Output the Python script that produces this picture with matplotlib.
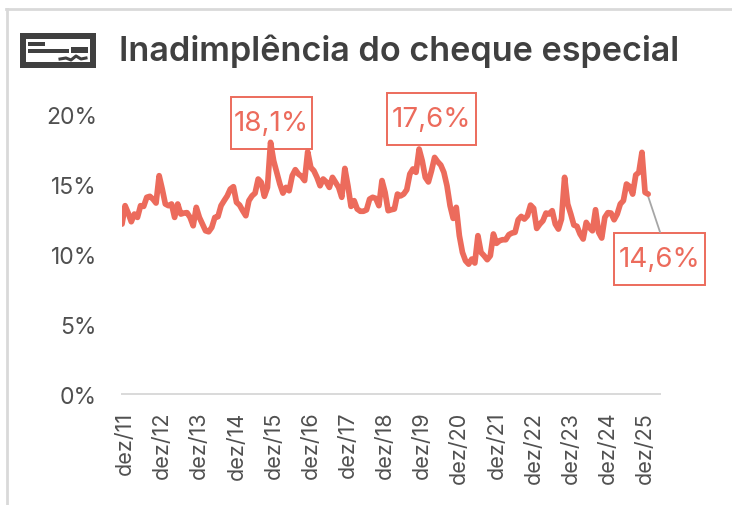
import matplotlib
matplotlib.use("Agg")
import matplotlib.pyplot as plt
from matplotlib.lines import Line2D
from matplotlib.patches import Rectangle
from matplotlib.transforms import ScaledTranslation

title = "Inadimplência do cheque especial"
tick_labels = ["dez/%d" % y for y in range(11, 26)]
y_ticks = [0, 5, 10, 15, 20]
y_labels = ["0%", "5%", "10%", "15%", "20%"]

v2012 = [12.18, 13.5, 12.97, 12.35, 12.9, 12.66, 13.5, 13.45, 14.1, 14.17, 13.97, 13.69]
v2013 = [15.65, 14.69, 13.62, 13.5, 13.62, 12.66, 13.62, 12.9, 12.97, 13.0, 12.66, 12.06]
v2014 = [13.38, 12.66, 12.18, 11.7, 11.63, 11.94, 12.66, 12.71, 13.5, 13.86, 14.2, 14.69]
v2015 = [14.86, 13.74, 13.54, 13.14, 12.78, 13.86, 14.2, 14.4, 15.41, 15.17, 14.17, 14.81]
v2016 = [18.04, 16.72, 15.89, 15.05, 14.4, 14.81, 14.57, 15.65, 16.08, 15.77, 15.6, 15.3]
v2017 = [17.37, 16.24, 16.0, 15.53, 14.93, 15.41, 15.2, 14.81, 15.53, 15.17, 14.81, 14.1]
v2018 = [16.17, 14.93, 13.45, 13.86, 13.26, 13.1, 13.1, 13.2, 13.97, 14.1, 14.02, 13.5]
v2019 = [15.3, 14.45, 13.14, 13.21, 13.26, 14.33, 14.2, 14.33, 14.64, 15.77, 16.13, 15.89]
v2020 = [17.56, 16.72, 15.53, 15.2, 16.0, 16.96, 16.65, 16.41, 15.89, 14.93, 13.5, 12.59]
v2021 = [13.38, 11.35, 10.15, 9.55, 9.31, 9.67, 9.39, 11.35, 10.15, 9.91, 9.63, 9.91]
v2022 = [11.47, 10.8, 10.99, 11.06, 11.06, 11.42, 11.54, 11.59, 12.49, 12.73, 12.54, 12.78]
v2023 = [13.54, 13.31, 11.87, 12.18, 12.42, 12.97, 12.9, 13.14, 12.18, 11.82, 12.54, 15.53]
v2024 = [13.62, 12.9, 12.11, 12.02, 11.47, 11.11, 12.3, 11.94, 11.7, 13.21, 11.59, 11.18]
v2025 = [12.66, 13.0, 12.97, 12.49, 12.9, 13.62, 13.86, 15.05, 14.88, 14.33, 15.7, 15.89]
v2026 = [17.32, 14.45, 14.33]
values = (v2012 + v2013 + v2014 + v2015 + v2016 + v2017 + v2018 + v2019 +
          v2020 + v2021 + v2022 + v2023 + v2024 + v2025 + v2026)

point_labels = ["18,1%", "17,6%", "14,6%"]

CORAL = "#EC6B5C"
DARK = "#404040"
GREY = "#505050"
W, H = 732, 506
FONT = "Inter"

fig = plt.figure(figsize=(W / 100, H / 100), dpi=100)
ax = fig.add_axes([122 / W, 1 - 395 / H, (660 - 122) / W, (395 - 116) / H])
ax.set_zorder(5)
ax.plot(range(len(values)), values, color=CORAL, lw=4.1, solid_joinstyle="round",
        solid_capstyle="round", clip_on=True)
ax.set_ylim(0, 20)
ax.set_xlim(0, (660 - 122) / 3.095)
ax.patch.set_alpha(0)
for s in ["top", "right", "left"]:
    ax.spines[s].set_visible(False)
ax.spines["bottom"].set_color("#D9D9D9")
ax.spines["bottom"].set_linewidth(1.4)
ax.set_yticks(y_ticks, y_labels, fontsize=16.5, color=GREY, family=FONT)
ax.set_xticks(range(0, 169, 12), tick_labels, rotation=90, fontsize=15.5, color=GREY, family=FONT)
ax.tick_params(length=0)
ax.tick_params(axis="y", pad=18)
ax.tick_params(axis="x", pad=12)
shift = ScaledTranslation(3 / 100, 0, fig.dpi_scale_trans)
for t in ax.get_xticklabels():
    t.set_transform(t.get_transform() + shift)


def px_text(x, y, s, **kw):
    return fig.text(x / W, 1 - y / H, s, **kw)


def rect(x0, y0, x1, y1, fc, ec="none", lw=0):
    fig.add_artist(Rectangle((x0 / W, 1 - y1 / H), (x1 - x0) / W, (y1 - y0) / H,
                             transform=fig.transFigure, fc=fc, ec=ec, lw=lw))


# leader line
fig.add_artist(Line2D([647 / W, 660 / W], [1 - 194 / H, 1 - 233 / H], color="#A6A6A6", lw=1.3))

boxes = [(231, 97.5, 312, 149.5), (387, 93.5, 476, 145.5), (614, 233.5, 705, 285.5)]
for lab, (x0, y0, x1, y1) in zip(point_labels, boxes):
    rect(x0, y0, x1, y1, "white", CORAL, 1.4)
    px_text((x0 + x1) / 2, (y0 + y1) / 2 + 1, lab, ha="center", va="center", fontsize=20,
            color=CORAL, family=FONT)

px_text(119, 51, title, fontsize=24.6, fontweight="semibold", color=DARK, family=FONT,
        ha="left", va="center")

# card border
fig.add_artist(Line2D([7 / W, 7 / W], [0, 1 - 10 / H], color="#D9D9D9", lw=2))
fig.add_artist(Line2D([6 / W, 1], [1 - 10 / H, 1 - 10 / H], color="#D9D9D9", lw=2))

# cheque icon
rect(20, 34, 96, 69, DARK)
rect(26, 40, 90, 63, "white")
rect(28, 43, 45, 47, DARK)
rect(28, 50, 69, 54, DARK)
rect(71, 48, 88, 54, DARK)
fig.add_artist(Line2D([60 / W, 66 / W, 71 / W, 76 / W, 81 / W, 86 / W],
                      [1 - y / H for y in (60, 59, 61, 57, 60, 59)],
                      color=DARK, lw=2.2))

fig.savefig("out.png", dpi=100)
